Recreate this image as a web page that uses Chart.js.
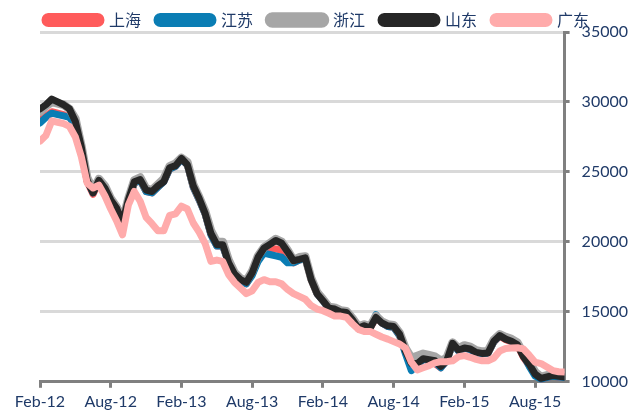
<!DOCTYPE html>
<html>
<head>
<meta charset="utf-8">
<script src="https://cdn.jsdelivr.net/npm/chart.js@4.4.0/dist/chart.umd.min.js"></script>
<style>
  html, body { margin: 0; padding: 0; background: #ffffff; }
  #wrap { width: 632px; height: 412px; }
</style>
</head>
<body>
<div id="wrap"><canvas id="chart" width="632" height="412"></canvas></div>
<script>
// 横轴: 自 Feb-12 起的月数 (每半月一个点)
const months = [
    0, 0.5, 1, 1.5, 2, 2.5, 3, 3.5, 4, 4.5, 5, 5.5, 6, 6.5, 7, 7.5, 8, 8.5, 9, 9.5,
    10, 10.5, 11, 11.5, 12, 12.5, 13, 13.5, 14, 14.5, 15, 15.5, 16, 16.5, 17, 17.5, 18, 18.5, 19, 19.5,
    20, 20.5, 21, 21.5, 22, 22.5, 23, 23.5, 24, 24.5, 25, 25.5, 26, 26.5, 27, 27.5, 28, 28.5, 29, 29.5,
    30, 30.5, 31, 31.5, 32, 32.5, 33, 33.5, 34, 34.5, 35, 35.5, 36, 36.5, 37, 37.5, 38, 38.5, 39, 39.5,
    40, 40.5, 41, 41.5, 42, 42.5, 43, 43.5, 44, 44.5
];
const tickLabels = ['Feb-12', 'Aug-12', 'Feb-13', 'Aug-13', 'Feb-14', 'Aug-14', 'Feb-15', 'Aug-15'];
const seriesNames = ['上海', '江苏', '浙江', '山东', '广东'];

const shanghai = [
    28700, 29000, 29300, 29200, 29100, 28900, 28400, 26700, 24300, 23400,
    24300, 23800, 22900, 22300, 21300, 22900, 24200, 24400, 23600, 23500,
    23900, 24300, 25200, 25400, 25900, 25500, 23900, 23000, 22000, 20500,
    19700, 19700, 18500, 17600, 17200, 17000, 17700, 18700, 19300, 19400,
    19500, 19400, 19000, 18500, 18700, 18800, 17300, 16300, 15800, 15200,
    15150, 15000, 14900, 14400, 13800, 13950, 13800, 14600, 14200, 13950,
    13900, 13300, 12100, 11000, 11200, 11600, 11500, 11300, 11000, 11500,
    12700, 12200, 12400, 12300, 12050, 12000, 12050, 12850, 13250, 13000,
    12850, 12600, 11750, 11150, 10500, 10200, 10300, 10400, 10350, 10300
];
const jiangsu = [
    28500, 28900, 29200, 29100, 29000, 28900, 28300, 26700, 24400, 23500,
    24500, 23900, 22900, 22300, 21300, 22900, 24200, 24400, 23600, 23500,
    23900, 24300, 25200, 25400, 25900, 25500, 23900, 23000, 22000, 20500,
    19700, 19700, 18500, 17600, 17200, 17000, 17600, 18600, 19200, 19100,
    19000, 18900, 18500, 18500, 18700, 18800, 17400, 16300, 15800, 15200,
    15150, 15000, 14900, 14400, 13800, 14000, 13850, 14800, 14200, 13950,
    13900, 13300, 12000, 10800, 11200, 11600, 11500, 11400, 11000, 11500,
    12700, 12200, 12400, 12300, 12050, 12000, 12050, 12850, 13300, 13100,
    12900, 12700, 11900, 11100, 10400, 10200, 10300, 10400, 10350, 10300
];
const zhejiang = [
    29300, 29700, 30000, 29900, 29800, 29500, 28800, 26900, 24600, 23700,
    24500, 24000, 23100, 22500, 21500, 23100, 24400, 24600, 23800, 23700,
    24100, 24500, 25400, 25600, 26000, 25700, 24100, 23200, 22200, 20800,
    20000, 20000, 18700, 17800, 17400, 17200, 17900, 19000, 19600, 19900,
    20200, 20000, 19400, 18700, 18900, 18950, 17400, 16400, 15900, 15350,
    15300, 15100, 15050, 14550, 13950, 14100, 13950, 14700, 14300, 14100,
    14050, 13500, 12400, 11700, 11850, 12000, 11900, 11800, 11500, 11700,
    12800, 12400, 12600, 12500, 12250, 12150, 12200, 13000, 13400, 13200,
    13050, 12800, 12000, 11400, 10700, 10350, 10450, 10550, 10500, 10450
];
const shandong = [
    29500, 29800, 30200, 30000, 29800, 29500, 28600, 26800, 24400, 23500,
    24400, 23850, 23000, 22400, 21400, 23000, 24300, 24450, 23700, 23600,
    24000, 24300, 25300, 25450, 25970, 25500, 24000, 23100, 22050, 20600,
    19800, 19800, 18500, 17700, 17300, 17100, 17800, 18900, 19550, 19820,
    20100, 19900, 19300, 18650, 18750, 18860, 17300, 16300, 15800, 15260,
    15200, 15000, 14950, 14430, 13830, 14000, 13850, 14600, 14200, 14000,
    13950, 13400, 12200, 11300, 11300, 11650, 11580, 11500, 11100, 11500,
    12750, 12250, 12420, 12350, 12100, 12030, 12050, 12900, 13300, 13050,
    12900, 12650, 11800, 11250, 10550, 10250, 10350, 10450, 10400, 10350
];
const guangdong = [
    27200, 27600, 28650, 28550, 28450, 28250, 27500, 26100, 24200, 23850,
    24050, 23300, 22350, 21500, 20500, 22650, 23600, 22900, 21750, 21300,
    20800, 20800, 21900, 22000, 22550, 22350, 21350, 20700, 19900, 18600,
    18700, 18600, 17660, 17100, 16700, 16300, 16500, 17100, 17300, 17150,
    17150, 17000, 16600, 16300, 16100, 15900, 15450, 15200, 15080, 14900,
    14700, 14700, 14600, 14150, 13750, 13600, 13600, 13400, 13200, 13050,
    12870, 12700, 12400, 11400, 10850, 11000, 11150, 11350, 11440, 11440,
    11500, 11800, 11870, 11750, 11600, 11500, 11500, 11700, 12200, 12380,
    12420, 12430, 12350, 11900, 11400, 11300, 11050, 10800, 10720, 10700
];

const seriesValues = [shanghai, jiangsu, zhejiang, shandong, guangdong];
const seriesColors = ['#FF5B5B', '#0A7DB4', '#A6A6A6', '#262626', '#FFABAB'];
const seriesWidths = [7, 7, 8.5, 7, 7];
const textColor = '#1F3A68';

// 后面的序列画在上层 (广东在最上)
const datasets = seriesNames.map((name, i) => ({
    label: name,
    data: months.map((m, j) => ({ x: m, y: seriesValues[i][j] })),
    borderColor: seriesColors[i],
    backgroundColor: seriesColors[i],
    borderWidth: seriesWidths[i],
    pointRadius: 0,
    tension: 0,
    borderJoinStyle: 'round',
    borderCapStyle: 'round',
    order: seriesNames.length - 1 - i
}));

new Chart(document.getElementById('chart'), {
    type: 'line',
    data: { datasets: datasets },
    options: {
        responsive: false,
        animation: false,
        devicePixelRatio: 1,
        layout: { padding: { left: -6, right: -8, top: -4, bottom: -3 } },
        plugins: {
            tooltip: { enabled: false },
            legend: {
                position: 'top',
                align: 'center',
                maxHeight: 36,
                labels: {
                    boxWidth: 56,
                    boxHeight: 7,
                    useBorderRadius: true,
                    borderRadius: 3.5,
                    padding: 16,
                    color: textColor,
                    font: { family: '"Noto Sans CJK SC", sans-serif', size: 16 },
                    sort: (a, b) => a.datasetIndex - b.datasetIndex
                }
            }
        },
        scales: {
            x: {
                type: 'linear',
                min: 0,
                max: 44.5,
                border: { color: '#808080', width: 3 },
                grid: {
                    drawOnChartArea: false,
                    drawTicks: true,
                    tickLength: 6,
                    tickColor: '#808080',
                    tickWidth: 3
                },
                ticks: {
                    stepSize: 6,
                    includeBounds: false,
                    autoSkip: false,
                    maxRotation: 0,
                    padding: 4,
                    color: textColor,
                    font: { family: 'Lato, sans-serif', size: 16 },
                    callback: (v) => tickLabels[v / 6]
                }
            },
            // 左侧留白用的空轴
            pad: {
                type: 'linear',
                position: 'left',
                display: true,
                grid: { display: false },
                border: { display: false },
                ticks: { display: false },
                afterFit: (scale) => { scale.width = 46; }
            },
            y: {
                position: 'right',
                min: 10000,
                max: 35000,
                border: { color: '#808080', width: 3 },
                grid: {
                    color: '#D9D9D9',
                    lineWidth: 3,
                    borderDash: [4, 1.5],
                    tickLength: 5,
                    tickColor: '#808080',
                    tickWidth: 3,
                    tickBorderDash: []
                },
                ticks: {
                    stepSize: 5000,
                    padding: 12,
                    color: textColor,
                    font: { family: 'Lato, sans-serif', size: 16 },
                    callback: (v) => String(v)
                }
            }
        }
    }
});
</script>
</body>
</html>
